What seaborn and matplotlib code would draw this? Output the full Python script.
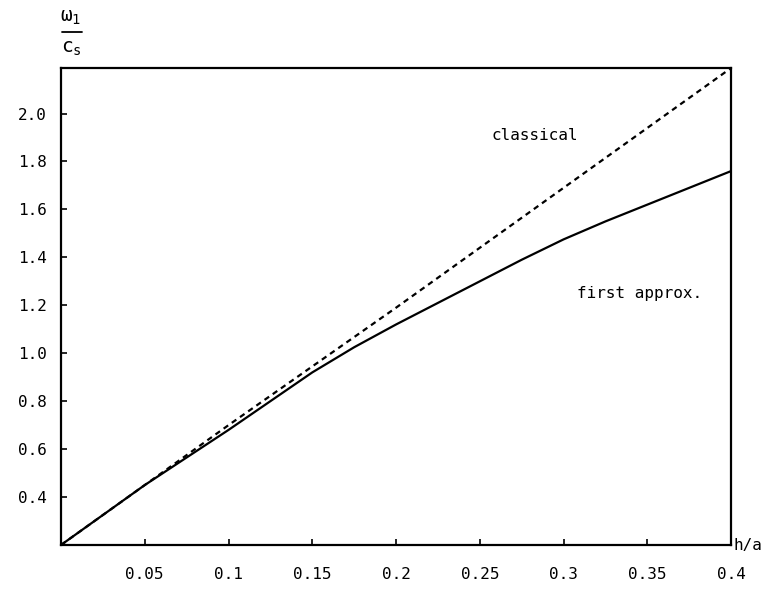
import pandas as pd
import matplotlib
matplotlib.use("Agg")
import matplotlib.pyplot as plt
from matplotlib.lines import Line2D
import seaborn as sns

# values
h_over_a = [0.0, 0.05, 0.1, 0.125, 0.15, 0.175, 0.2, 0.25, 0.275, 0.3, 0.325, 0.35, 0.4]
first_approx = [0.20, 0.45, 0.68, 0.80, 0.92, 1.025, 1.12, 1.30, 1.39, 1.475, 1.55, 1.62, 1.76]
classical_x = [0.0, 0.1, 0.2, 0.3, 0.4]
classical = [0.20, 0.70, 1.19, 1.69, 2.19]

x_ticks = [0.05, 0.1, 0.15, 0.2, 0.25, 0.3, 0.35, 0.4]
x_ticklabels = ["0.05", "0.1", "0.15", "0.2", "0.25", "0.3", "0.35", "0.4"]
y_ticks = [0.4, 0.6, 0.8, 1.0, 1.2, 1.4, 1.6, 1.8, 2.0]
y_ticklabels = ["0.4", "0.6", "0.8", "1.0", "1.2", "1.4", "1.6", "1.8", "2.0"]

df_first = pd.DataFrame({"h/a": h_over_a, "w": first_approx})
df_class = pd.DataFrame({"h/a": classical_x, "w": classical})

sns.set_style("ticks")
plt.rcParams["font.family"] = ["DejaVu Sans Mono", "DejaVu Sans"]
plt.rcParams["mathtext.fontset"] = "dejavusans"
plt.rcParams["text.color"] = "black"

fig = plt.figure(figsize=(7.64, 5.89), dpi=100)
ax = fig.add_axes([0.0798, 0.0747, 0.8772, 0.8099])

sns.lineplot(data=df_first, x="h/a", y="w", ax=ax, color="black", lw=1.6)
sns.lineplot(data=df_class, x="h/a", y="w", ax=ax, color="black", lw=1.6,
             linestyle=(0, (2.5, 2)))

ax.set_xlim(0, 0.4)
ax.set_ylim(0.2, 2.19)
ax.set_xticks(x_ticks)
ax.set_xticklabels(x_ticklabels)
ax.set_yticks(y_ticks)
ax.set_yticklabels(y_ticklabels)
ax.tick_params(direction="in", length=4, width=1.2, labelsize=11.5, colors="black")
ax.tick_params(axis="x", pad=16)
ax.tick_params(axis="y", pad=10)
for s in ax.spines.values():
    s.set_linewidth(1.6)
    s.set_color("black")
ax.set_xlabel("")
ax.set_ylabel("")

ax.text(0.257, 1.91, "classical", fontsize=11.5, va="center", ha="left")
ax.text(0.308, 1.25, "first approx.", fontsize=11.5, va="center", ha="left")
ax.text(1.004, 0.0, "h/a", transform=ax.transAxes, fontsize=11.5,
        va="center", ha="left")

# y-axis label drawn as a stacked fraction above the axis
fig.text(0.093, 1 - 17 / 589, r"$\mathregular{\omega_1}$", fontsize=14,
         ha="center", va="center")
fig.add_artist(Line2D([62 / 764, 82 / 764], [1 - 32 / 589, 1 - 32 / 589],
                      color="black", lw=1.3, transform=fig.transFigure))
fig.text(0.093, 1 - 48 / 589, r"$\mathregular{c_s}$", fontsize=14,
         ha="center", va="center")

fig.savefig("out.png", dpi=100)
